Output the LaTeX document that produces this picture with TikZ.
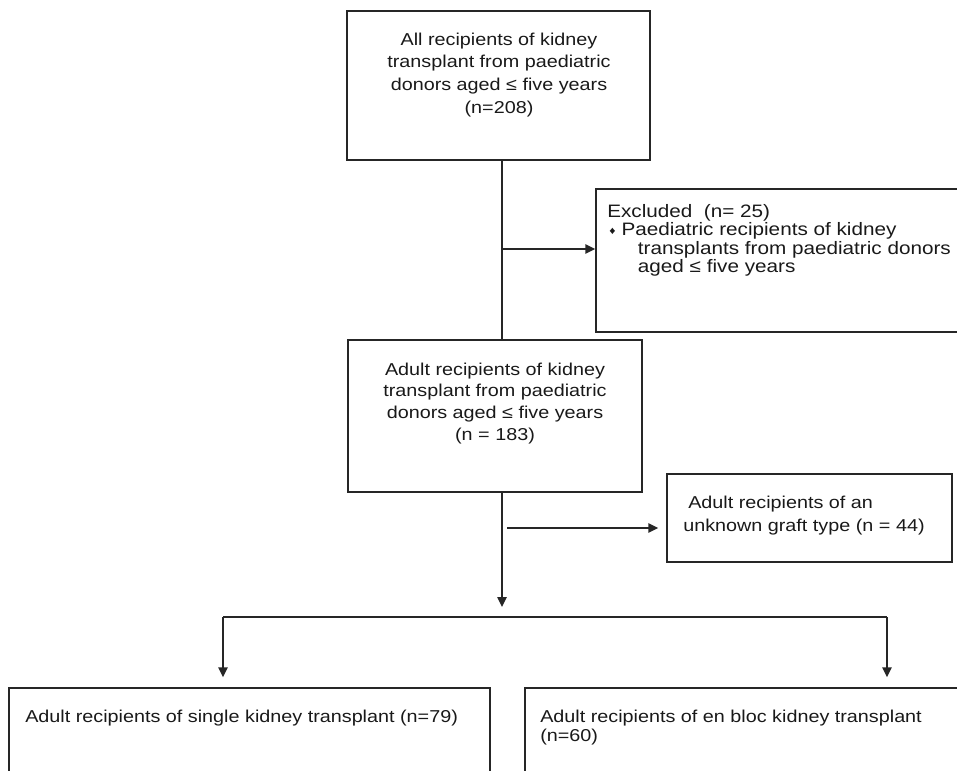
\documentclass[tikz,border=0pt]{standalone}
\usepackage{fontspec}
\setmainfont{Liberation Sans}[FakeStretch=1.15]
\usetikzlibrary{arrows.meta,fit}

\begin{document}
\begin{tikzpicture}[x=0.75pt,y=-0.75pt,
	box/.style={draw=black!85,line width=1.1pt,inner sep=0pt},
	txt/.style={inner sep=0pt,text=black!90,font=\fontsize{12.9}{17}\selectfont},
	conn/.style={draw=black!85,line width=1.1pt},
	arr/.style={conn,-{Triangle[length=7.5pt,width=7pt]}}]
\clip (0,0) rectangle (957,771);
% boxes
\node[box,fit={(347,11) (650,160)}] (all) {};
\node[box,fit={(596,189) (975,332)}] (excl) {};
\node[box,fit={(348,340) (642,492)}] (adult) {};
\node[box,fit={(667,474) (952,562)}] (unknown) {};
\node[box,fit={(9,688) (490,800)}] (single) {};
\node[box,fit={(525,688) (975,800)}] (enbloc) {};
% texts
\node[txt,align=center,anchor=north] (alltxt) at (499,32.4) {All recipients of kidney\\transplant from paediatric\\donors aged ≤ five years\\(n=208)};
\node[txt,align=left,anchor=north west,font=\fontsize{13.5}{13.8}\selectfont] (excltxt) at (607,204)
	{Excluded\ \ (n= 25)\\
	\hspace*{1.5pt}\raisebox{1pt}{\fontsize{8}{8}\selectfont ♦}\hspace{4.5pt}Paediatric recipients of kidney\\
	\hspace*{23pt}transplants from paediatric donors\\
	\hspace*{23pt}aged ≤ five years};
\node[txt,align=center,anchor=north,font=\fontsize{12.9}{16.3}\selectfont] (adulttxt) at (495,362.4) {Adult recipients of kidney\\transplant from paediatric\\donors aged ≤ five years\\(n = 183)};
\node[txt,align=left,anchor=north west,font=\fontsize{12.9}{17.3}\selectfont] (unknowntxt) at (683,495.4) {\hspace*{3.75pt}Adult recipients of an\\unknown graft type (n = 44)};
\node[txt,anchor=north west] (singletxt) at (25,709.4) {Adult recipients of single kidney transplant (n=79)};
\node[txt,align=left,anchor=north west,font=\fontsize{12.9}{14.2}\selectfont] (enbloctxt) at (540,709.4) {Adult recipients of en bloc kidney transplant\\(n=60)};
% connectors
\coordinate (trunk) at (502,249);
\coordinate (split) at (502,607);
\coordinate (unkfrom) at (507,528);
\coordinate (lbranch) at (223,617);
\coordinate (rbranch) at (887,617);
\draw[conn] (all.south -| trunk) -- (adult.north -| trunk);
\draw[arr] (trunk) -- (excl.west |- trunk);
\draw[arr] (adult.south -| split) -- (split);
\draw[arr,shorten >=6pt] (unkfrom) -- (unknown.west |- unkfrom);
\draw[conn] (lbranch) -- (rbranch);
\draw[arr,shorten >=7.5pt] (lbranch) -- (single.north -| lbranch);
\draw[arr,shorten >=7.5pt] (rbranch) -- (enbloc.north -| rbranch);
\end{tikzpicture}
\end{document}
